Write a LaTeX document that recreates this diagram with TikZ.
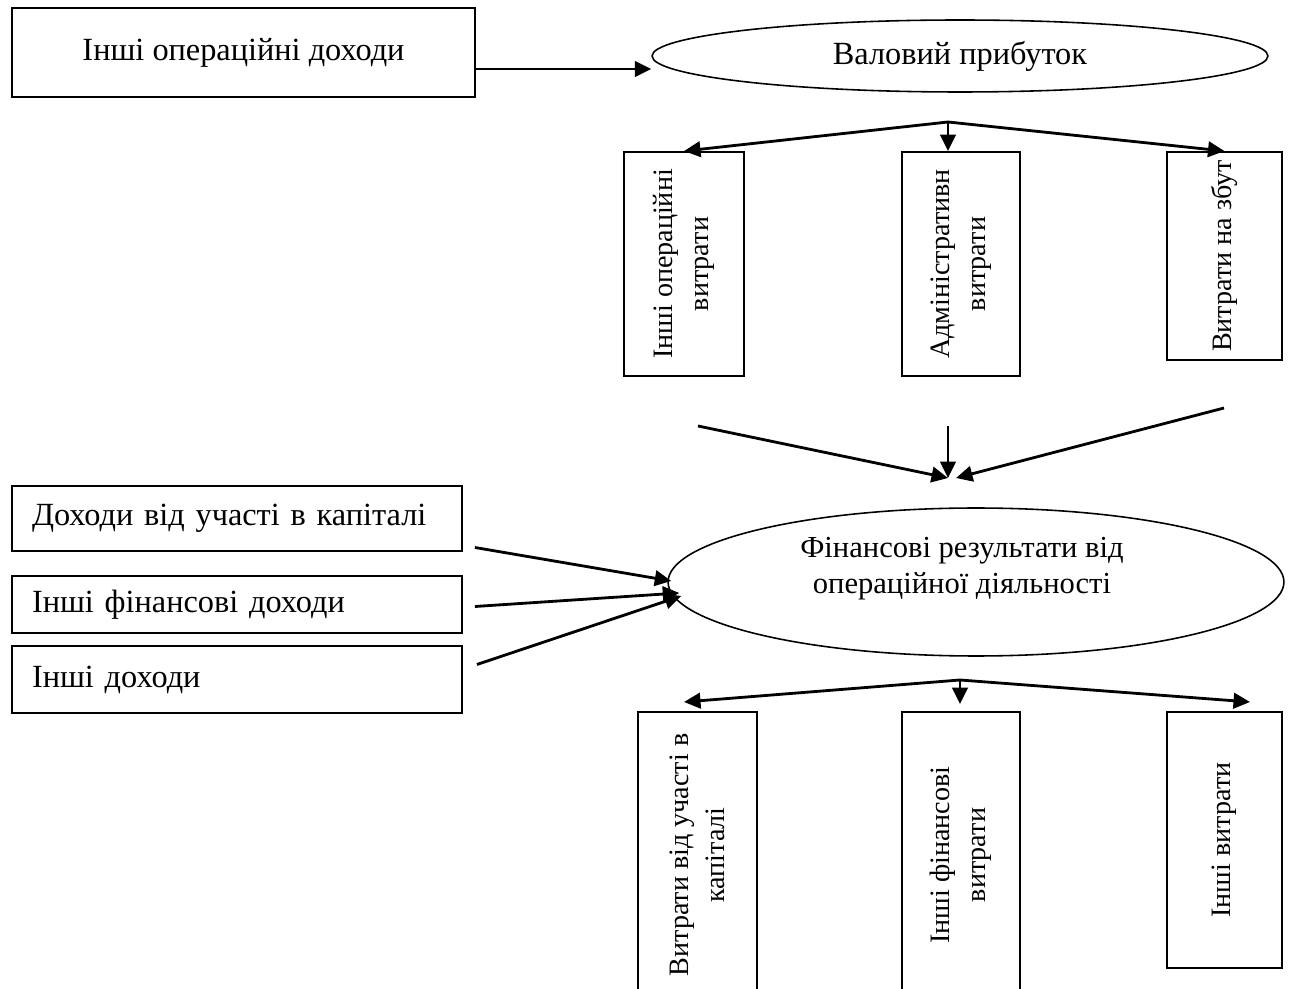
\documentclass[tikz,border=0pt]{standalone}
\usepackage{fontspec}
\setmainfont{Liberation Serif}
\usetikzlibrary{arrows.meta,positioning,shapes.geometric,calc}

\begin{document}
\begin{tikzpicture}[x=0.02cm,y=-0.02cm,
  font=\fontsize{18.4}{21}\selectfont,
  box/.style={draw,line width=1.1pt,inner sep=0pt},
  lbox/.style={box,minimum width=9cm,text width=8.2cm,align=left},
  vbox/.style={box,rotate=90,align=center,font=\fontsize{16}{20.5}\selectfont},
  oval/.style={draw,ellipse,line width=0.9pt,inner sep=0pt,align=center},
  arr/.style={-{Triangle[length=3.3mm,width=3.1mm]},line width=1.6pt}]
\useasboundingbox (0,0) rectangle (1289,989);
\clip (0,0) rectangle (1289,989);

\node[box,minimum width=9.26cm,minimum height=1.78cm] (otherinc) at (243.5,52.5) {Інші операційні доходи};
\node[oval,minimum width=12.32cm,minimum height=1.44cm] (gross) at (960,56) {Валовий прибуток};

% rotated boxes: .east is the top edge
\node[vbox,minimum width=4.48cm,minimum height=2.4cm] (opexp) at (684,264) {Інші операційні\\витрати};
\node[vbox,minimum width=4.48cm,minimum height=2.36cm] (admexp) at (961,264) {Адміністративн\\витрати};
\node[vbox,minimum width=4.16cm,minimum height=2.3cm] (salesexp) at (1224.5,256) {Витрати на збут};

\node[oval,minimum width=12.32cm,minimum height=2.96cm] (opres) at (976,582) {};
\node[align=center,font=\fontsize{17.4}{20.4}\selectfont] (opreslabel) at (962,569)
  {Фінансові результати від\\операційної діяльності};

\node[lbox,minimum height=1.3cm] (capinc) at (237,518.5) {Доходи від участі в капіталі};
\node[lbox,minimum height=1.14cm] (fininc) at (237,604.5) {Інші фінансові доходи};
\node[lbox,minimum height=1.34cm] (othinc) at (237,679.5) {Інші доходи};

\node[vbox,minimum width=5.72cm,minimum height=2.38cm] (capexp) at (697.5,855) {Витрати від участі в\\капіталі};
\node[vbox,minimum width=5.72cm,minimum height=2.36cm] (finexp) at (961,855) {Інші фінансові\\витрати};
\node[vbox,minimum width=5.12cm,minimum height=2.3cm] (othexp) at (1224.5,840) {Інші витрати};

\draw[arr] (otherinc.east |- 0,69) -- (gross.west |- 0,69);

\coordinate (split1) at (948,122);
\draw[arr] (split1) -- (opexp.east);
\draw[arr] (split1) -- (split1 |- admexp.east);
\draw[arr] (split1) -- (salesexp.east);

\coordinate (join1) at (948,478);
\coordinate (fromop) at (698,426);
\coordinate (fromadm) at (948,426);
\coordinate (fromsales) at (1224,408);
\draw[arr] (fromop) -- (join1);
\draw[arr] (fromadm) -- (join1);
\draw[arr] (fromsales) -- ($(join1)+(8,0)$);

\draw[arr] ($(capinc.east)+(12,29)$) -- ($(opres.west)+(4,-1)$);
\draw[arr] ($(fininc.east)+(12,2)$) -- ($(opres.west)+(12,11)$);
\draw[arr] ($(othinc.east)+(14,-15)$) -- ($(opres.west)+(14,14)$);

\coordinate (split2) at (960,680);
\draw[arr] (split2) -- (684,702);
\draw[arr] (split2) -- (split2 |- 0,704);
\draw[arr] (split2) -- (1250,702);
\end{tikzpicture}
\end{document}
